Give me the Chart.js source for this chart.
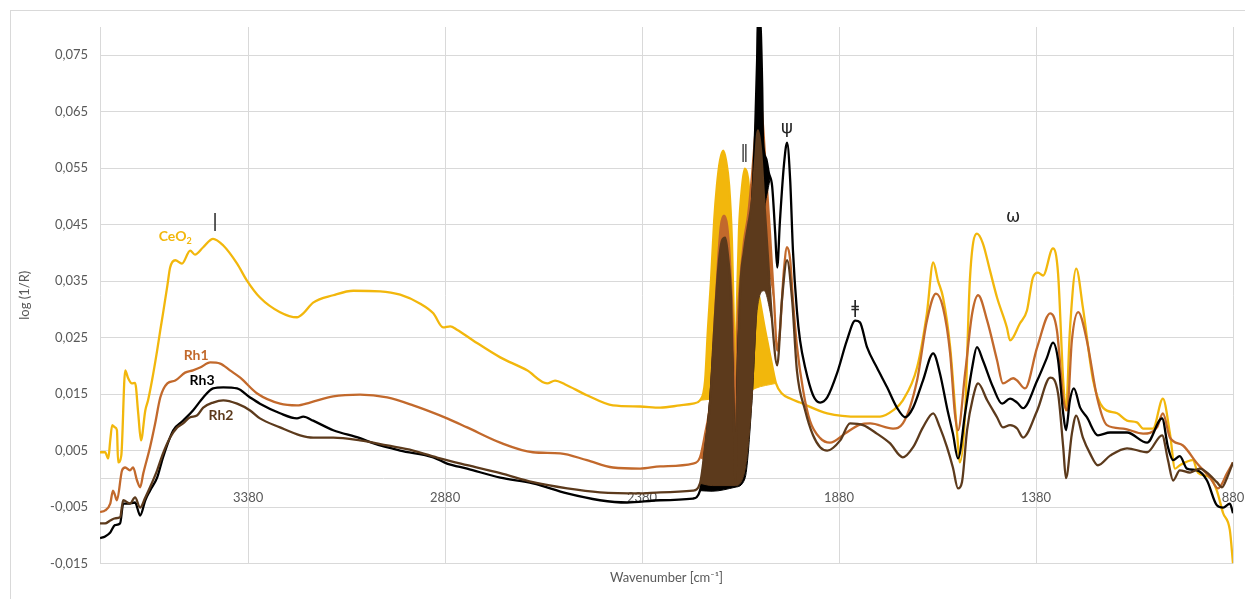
<!DOCTYPE html>
<html>
<head>
<meta charset="utf-8">
<script src="https://cdn.jsdelivr.net/npm/chart.js@4.4.1/dist/chart.umd.min.js"></script>
<style>
  html, body { margin: 0; padding: 0; background: #fff; overflow: hidden; }
  #frame { position: absolute; left: 10px; top: 10px; width: 1260px; height: 620px; border: 1px solid #d9d9d9; box-sizing: border-box; }
  #wrap { position: absolute; left: 0; top: 0; width: 1245px; height: 599px; }
</style>
</head>
<body>
<div id="frame"></div>
<div id="wrap"><canvas id="chart" width="1245" height="599"></canvas></div>
<script>
// ── Spectra (wavenumber in cm-1, log(1/R)) ──────────────
const ceo2Wn = [3756, 3743, 3735, 3730, 3725, 3718, 3713, 3710, 3702, 3692, 3685, 3675, 3667, 3659, 3652, 3641, 3634, 3624, 3611, 3603, 3596, 3585, 3578, 3565, 3548, 3527, 3515, 3494, 3469, 3443, 3408, 3383, 3350, 3299, 3256, 3240, 3215, 3164, 3113, 3045, 2994, 2943, 2910, 2885, 2867, 2850, 2809, 2740, 2672, 2621, 2601, 2575, 2520, 2454, 2385, 2334, 2284, 2251, 2233, 2220, 2213, 2205, 2197, 2190, 2182, 2174, 2167, 2159, 2152, 2147, 2143, 2139, 2134, 2126, 2119, 2111, 2103, 2096, 2088, 2081, 2070, 2060, 2050, 2040, 2025, 2004, 1979, 1910, 1827, 1776, 1743, 1718, 1682, 1657, 1641, 1629, 1616, 1598, 1581, 1573, 1560, 1548, 1530, 1515, 1497, 1479, 1454, 1446, 1421, 1403, 1388, 1375, 1362, 1337, 1324, 1311, 1304, 1294, 1278, 1261, 1235, 1210, 1174, 1149, 1124, 1108, 1083, 1058, 1040, 1027, 1015, 982, 969, 938, 921, 905, 888, 880];
const ceo2Abs = [0.0047, 0.0047, 0.0036, 0.0068, 0.0095, 0.0091, 0.0086, 0.0029, 0.0041, 0.0192, 0.0179, 0.0169, 0.0170, 0.0116, 0.0068, 0.0121, 0.0139, 0.0174, 0.0227, 0.0263, 0.0293, 0.0342, 0.0374, 0.0387, 0.0381, 0.0404, 0.0397, 0.0410, 0.0425, 0.0413, 0.0381, 0.0351, 0.0321, 0.0295, 0.0286, 0.0293, 0.0312, 0.0325, 0.0333, 0.0332, 0.0326, 0.0310, 0.0293, 0.0268, 0.0270, 0.0264, 0.0245, 0.0215, 0.0192, 0.0169, 0.0174, 0.0167, 0.0148, 0.0130, 0.0128, 0.0126, 0.0130, 0.0133, 0.0139, 0.0174, 0.0263, 0.0351, 0.0457, 0.0519, 0.0564, 0.0581, 0.0564, 0.0519, 0.0422, 0.0280, 0.0192, 0.0316, 0.0440, 0.0519, 0.0549, 0.0532, 0.0466, 0.0404, 0.0342, 0.0316, 0.0272, 0.0236, 0.0201, 0.0169, 0.0151, 0.0142, 0.0135, 0.0116, 0.0110, 0.0110, 0.0121, 0.0139, 0.0197, 0.0293, 0.0383, 0.0351, 0.0321, 0.0233, 0.0086, 0.0029, 0.0116, 0.0351, 0.0434, 0.0417, 0.0369, 0.0321, 0.0268, 0.0245, 0.0275, 0.0298, 0.0356, 0.0365, 0.0360, 0.0408, 0.0363, 0.0174, 0.0121, 0.0263, 0.0372, 0.0303, 0.0174, 0.0126, 0.0116, 0.0103, 0.0100, 0.0089, 0.0089, 0.0142, 0.0080, 0.0018, 0.0024, 0.0033, 0.0011, 0.0002, -0.0021, -0.0061, -0.0091, -0.0150];
const ceo2BandWn = [2233, 2182, 2144, 2093, 2040];
const ceo2BandAbs = [0.0139, 0.0142, 0.0139, 0.0160, 0.0169];

const rh1Wn = [3756, 3743, 3730, 3723, 3718, 3713, 3700, 3692, 3680, 3672, 3662, 3654, 3646, 3629, 3616, 3603, 3585, 3565, 3540, 3520, 3502, 3476, 3451, 3426, 3400, 3357, 3299, 3256, 3223, 3164, 3096, 3027, 2961, 2875, 2824, 2740, 2657, 2588, 2520, 2454, 2385, 2334, 2251, 2233, 2220, 2207, 2197, 2187, 2180, 2172, 2164, 2157, 2149, 2143, 2139, 2131, 2121, 2111, 2101, 2093, 2086, 2081, 2073, 2065, 2055, 2045, 2037, 2030, 2020, 2012, 2004, 1997, 1987, 1971, 1954, 1928, 1903, 1865, 1827, 1801, 1743, 1718, 1682, 1657, 1634, 1616, 1598, 1586, 1578, 1560, 1542, 1527, 1504, 1479, 1464, 1438, 1428, 1408, 1377, 1344, 1327, 1311, 1301, 1289, 1273, 1251, 1225, 1200, 1159, 1108, 1073, 1058, 1040, 1007, 971, 938, 918, 895, 880];
const rh1Abs = [-0.0059, -0.0056, -0.0044, -0.0021, -0.0029, -0.0038, 0.0015, 0.0020, 0.0015, 0.0020, -0.0003, -0.0015, 0.0010, 0.0056, 0.0098, 0.0144, 0.0169, 0.0174, 0.0188, 0.0192, 0.0197, 0.0206, 0.0204, 0.0192, 0.0179, 0.0151, 0.0133, 0.0130, 0.0135, 0.0146, 0.0149, 0.0144, 0.0130, 0.0107, 0.0091, 0.0064, 0.0047, 0.0045, 0.0033, 0.0020, 0.0018, 0.0022, 0.0027, 0.0038, 0.0080, 0.0139, 0.0263, 0.0387, 0.0448, 0.0466, 0.0448, 0.0387, 0.0263, 0.0086, 0.0245, 0.0351, 0.0422, 0.0466, 0.0537, 0.0608, 0.0670, 0.0682, 0.0625, 0.0537, 0.0431, 0.0316, 0.0227, 0.0263, 0.0369, 0.0410, 0.0387, 0.0316, 0.0236, 0.0156, 0.0103, 0.0072, 0.0064, 0.0080, 0.0096, 0.0098, 0.0089, 0.0098, 0.0174, 0.0280, 0.0328, 0.0303, 0.0222, 0.0116, 0.0086, 0.0187, 0.0293, 0.0325, 0.0280, 0.0210, 0.0169, 0.0178, 0.0174, 0.0160, 0.0233, 0.0293, 0.0263, 0.0144, 0.0121, 0.0245, 0.0295, 0.0245, 0.0144, 0.0095, 0.0089, 0.0080, 0.0091, 0.0116, 0.0073, 0.0059, 0.0027, 0.0002, -0.0017, 0.0010, 0.0029];
const rh1BandWn = [2233, 2202, 2144, 2119, 2101, 2088, 2060, 2045];
const rh1BandAbs = [0.0038, 0.0024, 0.0015, 0.0040, 0.0174, 0.0316, 0.0369, 0.0316];

const rh3Wn = [3756, 3743, 3730, 3718, 3705, 3697, 3685, 3667, 3654, 3641, 3629, 3611, 3596, 3570, 3545, 3520, 3494, 3469, 3443, 3408, 3375, 3350, 3299, 3256, 3240, 3215, 3164, 3096, 3063, 2994, 2910, 2875, 2824, 2740, 2657, 2570, 2487, 2418, 2334, 2251, 2233, 2220, 2207, 2195, 2182, 2172, 2162, 2152, 2143, 2136, 2126, 2116, 2106, 2098, 2093, 2088, 2086, 2081, 2075, 2073, 2065, 2058, 2050, 2042, 2037, 2030, 2020, 2012, 2004, 1997, 1987, 1979, 1966, 1946, 1928, 1910, 1885, 1860, 1839, 1827, 1809, 1784, 1758, 1733, 1712, 1692, 1667, 1641, 1624, 1606, 1591, 1578, 1560, 1542, 1530, 1515, 1489, 1466, 1446, 1428, 1413, 1377, 1352, 1337, 1324, 1311, 1304, 1294, 1284, 1268, 1251, 1223, 1192, 1149, 1098, 1060, 1045, 1032, 1015, 997, 971, 946, 921, 905, 888, 880];
const rh3Abs = [-0.0105, -0.0102, -0.0095, -0.0082, -0.0079, -0.0044, -0.0044, -0.0042, -0.0065, -0.0038, -0.0021, 0.0002, 0.0038, 0.0086, 0.0103, 0.0121, 0.0144, 0.0160, 0.0162, 0.0160, 0.0144, 0.0133, 0.0116, 0.0107, 0.0110, 0.0103, 0.0086, 0.0072, 0.0063, 0.0050, 0.0038, 0.0027, 0.0018, 0.0002, -0.0008, -0.0026, -0.0038, -0.0042, -0.0038, -0.0035, -0.0021, 0.0050, 0.0139, 0.0263, 0.0333, 0.0360, 0.0333, 0.0227, 0.0015, 0.0227, 0.0333, 0.0387, 0.0440, 0.0528, 0.0617, 0.0741, 0.0820, 0.0820, 0.0693, 0.0599, 0.0567, 0.0541, 0.0519, 0.0434, 0.0374, 0.0457, 0.0555, 0.0595, 0.0528, 0.0404, 0.0298, 0.0245, 0.0197, 0.0148, 0.0135, 0.0144, 0.0187, 0.0245, 0.0280, 0.0277, 0.0233, 0.0197, 0.0162, 0.0126, 0.0109, 0.0126, 0.0174, 0.0222, 0.0187, 0.0126, 0.0080, 0.0036, 0.0116, 0.0197, 0.0233, 0.0210, 0.0162, 0.0133, 0.0142, 0.0135, 0.0125, 0.0174, 0.0215, 0.0241, 0.0210, 0.0116, 0.0086, 0.0139, 0.0160, 0.0126, 0.0109, 0.0077, 0.0082, 0.0082, 0.0064, 0.0107, 0.0056, 0.0033, 0.0040, 0.0018, 0.0015, -0.0003, -0.0047, -0.0051, -0.0044, -0.0061];
const rh3BandWn = [2233, 2202, 2144, 2119, 2101, 2088, 2073, 2055];
const rh3BandAbs = [-0.0021, -0.0022, -0.0015, 0.0000, 0.0139, 0.0316, 0.0457, 0.0532];

const rh2Wn = [3756, 3743, 3730, 3718, 3705, 3697, 3680, 3667, 3654, 3641, 3629, 3611, 3596, 3578, 3560, 3545, 3527, 3510, 3494, 3469, 3443, 3408, 3375, 3350, 3299, 3248, 3215, 3164, 3096, 3027, 2961, 2893, 2824, 2740, 2657, 2570, 2487, 2385, 2334, 2251, 2233, 2220, 2207, 2197, 2187, 2177, 2169, 2162, 2154, 2147, 2143, 2140, 2131, 2121, 2111, 2101, 2093, 2086, 2078, 2070, 2060, 2050, 2037, 2025, 2012, 1999, 1987, 1966, 1946, 1928, 1910, 1877, 1852, 1819, 1784, 1751, 1718, 1692, 1667, 1641, 1624, 1606, 1591, 1578, 1568, 1555, 1540, 1527, 1504, 1479, 1464, 1446, 1428, 1413, 1377, 1344, 1324, 1311, 1304, 1289, 1278, 1261, 1243, 1223, 1192, 1149, 1098, 1060, 1045, 1032, 1015, 989, 964, 946, 921, 908, 895, 880];
const rh2Abs = [-0.0079, -0.0079, -0.0074, -0.0070, -0.0068, -0.0038, -0.0044, -0.0033, -0.0051, -0.0033, -0.0015, 0.0015, 0.0045, 0.0073, 0.0091, 0.0098, 0.0109, 0.0112, 0.0126, 0.0135, 0.0139, 0.0133, 0.0121, 0.0107, 0.0091, 0.0077, 0.0073, 0.0073, 0.0068, 0.0059, 0.0050, 0.0036, 0.0024, 0.0010, -0.0006, -0.0017, -0.0024, -0.0026, -0.0024, -0.0021, -0.0008, 0.0056, 0.0139, 0.0263, 0.0369, 0.0422, 0.0427, 0.0395, 0.0316, 0.0103, -0.0008, 0.0103, 0.0333, 0.0404, 0.0448, 0.0493, 0.0564, 0.0617, 0.0581, 0.0493, 0.0387, 0.0280, 0.0201, 0.0316, 0.0387, 0.0316, 0.0192, 0.0121, 0.0077, 0.0056, 0.0050, 0.0068, 0.0098, 0.0095, 0.0080, 0.0063, 0.0038, 0.0056, 0.0091, 0.0116, 0.0091, 0.0056, 0.0020, -0.0017, -0.0006, 0.0086, 0.0144, 0.0169, 0.0139, 0.0109, 0.0091, 0.0095, 0.0089, 0.0073, 0.0121, 0.0179, 0.0151, 0.0056, 0.0001, 0.0080, 0.0112, 0.0073, 0.0045, 0.0024, 0.0041, 0.0054, 0.0047, 0.0077, 0.0033, -0.0003, 0.0015, 0.0011, 0.0018, 0.0011, -0.0006, -0.0015, 0.0002, 0.0029];
const rh2BandWn = [2233, 2202, 2144, 2119, 2101, 2088, 2070, 2050];
const rh2BandAbs = [-0.0008, -0.0012, -0.0012, 0.0015, 0.0139, 0.0298, 0.0333, 0.0280];

// ── Axes ────────────────────────────────────────────────
const xTicks = [3380, 2880, 2380, 1880, 1380, 880];
const yTicks = [-0.015, -0.005, 0.005, 0.015, 0.025, 0.035, 0.045, 0.055, 0.065, 0.075];

// ── Annotations ─────────────────────────────────────────
const noteText = ["CeO", "Rh1", "Rh3", "Rh2", "|", "\u2016", "\u03c8", "\u01c2", "\u03c9"];
const noteWn = [3565, 3512, 3497, 3449, 3464, 2120, 2012, 1839, 1438];
const noteAbs = [0.0429, 0.0218, 0.0174, 0.0112, 0.0454, 0.0575, 0.0620, 0.0302, 0.0463];

const COLORS = { CeO2: "#f2b70c", Rh1: "#c2692c", Rh3: "#000000", Rh2: "#5c3a1c" };
const GRID = "#d9d9d9";
const TXT = "#595959";

function pts(wn, v) {
  return wn.map((x, i) => ({ x: x, y: v[i] }));
}

// idx = index of the curve itself; its band (lower edge of the dense
// gas-phase CO lines) comes right after and is filled up to the curve
function series(label, wn, v, bandWn, bandV, color, idx) {
  return [
    {
      label: label,
      data: pts(wn, v),
      borderColor: color,
      borderWidth: 2.3,
      fill: false,
      cubicInterpolationMode: "monotone",
    },
    {
      label: label + " band",
      data: pts(bandWn, bandV),
      borderColor: color,
      backgroundColor: color,
      borderWidth: 1,
      fill: idx,
      cubicInterpolationMode: "monotone",
    },
  ];
}

// Chart.js paints the first dataset last (on top): Rh2 on top, CeO2 at the back
const datasets = [
  ...series("Rh2", rh2Wn, rh2Abs, rh2BandWn, rh2BandAbs, COLORS.Rh2, 0),
  ...series("Rh3", rh3Wn, rh3Abs, rh3BandWn, rh3BandAbs, COLORS.Rh3, 2),
  ...series("Rh1", rh1Wn, rh1Abs, rh1BandWn, rh1BandAbs, COLORS.Rh1, 4),
  ...series("CeO2", ceo2Wn, ceo2Abs, ceo2BandWn, ceo2BandAbs, COLORS.CeO2, 6),
];

const noteStyle = [
  { c: COLORS.CeO2, f: "bold 14px Lato", sub: "2" },
  { c: COLORS.Rh1, f: "bold 14px Lato" },
  { c: COLORS.Rh3, f: "bold 14px Lato" },
  { c: COLORS.Rh2, f: "bold 14px Lato" },
  { c: "#262626", f: "18px 'DejaVu Sans'" },
  { c: "#404040", f: "17px 'DejaVu Sans'" },
  { c: "#262626", f: "18px 'DejaVu Sans'" },
  { c: "#262626", f: "17px 'DejaVu Sans'" },
  { c: "#262626", f: "17px 'DejaVu Sans'" },
];

const notesPlugin = {
  id: "notes",
  afterDatasetsDraw(chart) {
    const { ctx, scales } = chart;
    ctx.save();
    ctx.textBaseline = "middle";
    noteText.forEach((txt, i) => {
      const st = noteStyle[i];
      const px = scales.x.getPixelForValue(noteWn[i]);
      const py = scales.y.getPixelForValue(noteAbs[i]);
      ctx.fillStyle = st.c;
      ctx.font = st.f;
      if (st.sub) {
        const w1 = ctx.measureText(txt).width;
        ctx.font = "bold 9px Lato";
        const w2 = ctx.measureText(st.sub).width;
        const x0 = px - (w1 + w2) / 2;
        ctx.textAlign = "left";
        ctx.fillText(st.sub, x0 + w1, py + 5);
        ctx.font = st.f;
        ctx.fillText(txt, x0, py);
      } else {
        ctx.textAlign = "center";
        ctx.fillText(txt, px, py);
      }
    });
    ctx.restore();
  },
};

Chart.defaults.font.family = "Lato, 'Open Sans', sans-serif";
Chart.defaults.color = TXT;

new Chart(document.getElementById("chart"), {
  type: "line",
  data: { datasets },
  plugins: [notesPlugin],
  options: {
    responsive: false,
    animation: false,
    events: [],
    layout: { padding: { left: 10, right: 12, top: 27, bottom: 0 } },
    elements: { point: { radius: 0 } },
    plugins: { legend: { display: false }, tooltip: { enabled: false } },
    scales: {
      x: {
        type: "linear",
        reverse: true,
        min: 880,
        max: 3756,
        position: { y: 0 },
        afterBuildTicks: (s) => {
          s.ticks = xTicks.map((v) => ({ value: v }));
        },
        afterFit: (s) => {
          s.paddingLeft = 0;
          s.paddingRight = 0;
        },
        ticks: { color: TXT, font: { size: 13 }, padding: 11, maxRotation: 0, callback: (v) => String(v) },
        grid: { color: GRID, drawTicks: false },
        border: { color: GRID },
      },
      x2: {
        type: "linear",
        reverse: true,
        min: 880,
        max: 3756,
        position: "bottom",
        ticks: { display: false },
        grid: { display: false },
        border: { display: false },
        title: { display: true, text: "Wavenumber [cm\u207b\u00b9]", color: TXT, font: { size: 13 }, padding: { top: 0, bottom: 13 } },
        afterFit: (s) => {
          s.height = 35.5;
        },
      },
      y: {
        min: -0.015,
        max: 0.08,
        afterBuildTicks: (s) => {
          s.ticks = yTicks.map((v) => ({ value: v }));
        },
        ticks: { color: TXT, font: { size: 13 }, padding: 12, callback: (v) => v.toFixed(3).replace(".", ",") },
        grid: { color: GRID, drawTicks: false },
        border: { color: GRID },
        title: { display: true, text: "log (1/R)", color: TXT, font: { size: 13 }, padding: { top: 7, bottom: 0 } },
        afterFit: (s) => {
          s.width = 90;
        },
      },
    },
  },
});
</script>
</body>
</html>
